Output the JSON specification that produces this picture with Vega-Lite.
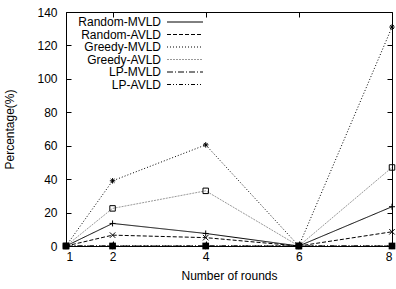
{
  "$schema": "https://vega.github.io/schema/vega-lite/v6.json",
  "autosize": "none",
  "width": 326,
  "height": 234,
  "padding": {"left": 66, "top": 12, "right": 4, "bottom": 43},
  "config": {
    "font": "Liberation Sans",
    "view": {"stroke": "black", "strokeWidth": 1},
    "axis": {"grid": false, "domain": false, "tickColor": "black", "labelColor": "black", "labelFontSize": 12, "titleFontSize": 12, "titleFontWeight": "normal", "titleColor": "black"}
  },
  "data": {"values": [
    {"round": 1, "series": "Random-MVLD", "value": 0},
    {"round": 2, "series": "Random-MVLD", "value": 13.5},
    {"round": 4, "series": "Random-MVLD", "value": 7.5},
    {"round": 6, "series": "Random-MVLD", "value": 0},
    {"round": 8, "series": "Random-MVLD", "value": 23.5},
    {"round": 1, "series": "Random-AVLD", "value": 0},
    {"round": 2, "series": "Random-AVLD", "value": 6.5},
    {"round": 4, "series": "Random-AVLD", "value": 5},
    {"round": 6, "series": "Random-AVLD", "value": 0},
    {"round": 8, "series": "Random-AVLD", "value": 8.5},
    {"round": 1, "series": "Greedy-MVLD", "value": 0},
    {"round": 2, "series": "Greedy-MVLD", "value": 39},
    {"round": 4, "series": "Greedy-MVLD", "value": 60.5},
    {"round": 6, "series": "Greedy-MVLD", "value": 0},
    {"round": 8, "series": "Greedy-MVLD", "value": 131},
    {"round": 1, "series": "Greedy-AVLD", "value": 0},
    {"round": 2, "series": "Greedy-AVLD", "value": 22.5},
    {"round": 4, "series": "Greedy-AVLD", "value": 33},
    {"round": 6, "series": "Greedy-AVLD", "value": 0},
    {"round": 8, "series": "Greedy-AVLD", "value": 47},
    {"round": 1, "series": "LP-MVLD", "value": 0},
    {"round": 2, "series": "LP-MVLD", "value": 0},
    {"round": 4, "series": "LP-MVLD", "value": 0},
    {"round": 6, "series": "LP-MVLD", "value": 0},
    {"round": 8, "series": "LP-MVLD", "value": 0},
    {"round": 1, "series": "LP-AVLD", "value": 0},
    {"round": 2, "series": "LP-AVLD", "value": 0},
    {"round": 4, "series": "LP-AVLD", "value": 0},
    {"round": 6, "series": "LP-AVLD", "value": 0},
    {"round": 8, "series": "LP-AVLD", "value": 0}
  ]},
  "resolve": {"axis": {"x": "independent", "y": "independent"}},
  "layer": [
    {
      "mark": {"type": "line", "strokeWidth": 1},
      "encoding": {
        "x": {"field": "round", "type": "quantitative", "scale": {"domain": [1, 8], "nice": false, "zero": false},
              "axis": {"values": [1, 2, 4, 6, 8], "tickSize": -5, "labelPadding": 10, "title": "Number of rounds", "titlePadding": 8}},
        "y": {"field": "value", "type": "quantitative", "scale": {"domain": [0, 140], "nice": false},
              "axis": {"values": [0, 20, 40, 60, 80, 100, 120, 140], "tickSize": -5, "labelPadding": 14, "title": "Percentage(%)", "titlePadding": 20}},
        "color": {"field": "series", "type": "nominal",
                  "sort": ["Random-MVLD", "Random-AVLD", "Greedy-MVLD", "Greedy-AVLD", "LP-MVLD", "LP-AVLD"],
                  "scale": {"domain": ["Random-MVLD", "Random-AVLD", "Greedy-MVLD", "Greedy-AVLD", "LP-MVLD", "LP-AVLD"],
                            "range": ["#000000", "#000000", "#000000", "#999999", "#000000", "#000000"]},
                  "legend": {"title": null, "orient": "none", "legendX": 113, "legendY": 4, "labelFontSize": 12, "labelColor": "black", "symbolType": "M-6,0H6", "symbolSize": 36, "symbolStrokeWidth": 1, "rowPadding": 0.5, "labelAlign": "right", "labelOffset": -30, "padding": 0}},
        "strokeDash": {"field": "series", "type": "nominal",
                  "scale": {"domain": ["Random-MVLD", "Random-AVLD", "Greedy-MVLD", "Greedy-AVLD", "LP-MVLD", "LP-AVLD"],
                            "range": [[1, 0], [4, 2], [1, 2], [2, 1], [6, 2, 1, 2], [4, 2, 1, 2, 1, 2]]},
                  "legend": {"title": null, "orient": "none", "legendX": 113, "legendY": 4, "labelFontSize": 12, "labelColor": "black", "symbolType": "M-6,0H6", "symbolSize": 36, "symbolStrokeWidth": 1, "rowPadding": 0.5, "labelAlign": "right", "labelOffset": -30, "padding": 0}}
      }
    },
    {
      "transform": [{"filter": {"field": "series", "equal": "Random-MVLD"}}],
      "mark": {"type": "point", "filled": false, "stroke": "black", "strokeWidth": 1, "size": 36, "opacity": 1, "shape": "M-1,0H1M0,-1V1"},
      "encoding": {
        "x": {"field": "round", "type": "quantitative", "axis": {"orient": "top", "values": [1, 2, 4, 6, 8], "tickSize": -5, "labels": false, "title": null}},
        "y": {"field": "value", "type": "quantitative", "axis": {"orient": "right", "values": [0, 20, 40, 60, 80, 100, 120, 140], "tickSize": -5, "labels": false, "title": null}}
      }
    },
    {
      "transform": [{"filter": {"field": "series", "equal": "Random-AVLD"}}],
      "mark": {"type": "point", "filled": false, "stroke": "black", "strokeWidth": 1, "size": 30, "opacity": 1, "shape": "M-1,-1L1,1M-1,1L1,-1"},
      "encoding": {
        "x": {"field": "round", "type": "quantitative", "axis": null},
        "y": {"field": "value", "type": "quantitative", "axis": null}
      }
    },
    {
      "transform": [{"filter": {"field": "series", "equal": "Greedy-MVLD"}}],
      "mark": {"type": "point", "filled": false, "stroke": "black", "strokeWidth": 1, "size": 30, "opacity": 1, "shape": "M-1,0H1M0,-1V1M-0.7,-0.7L0.7,0.7M-0.7,0.7L0.7,-0.7"},
      "encoding": {
        "x": {"field": "round", "type": "quantitative", "axis": null},
        "y": {"field": "value", "type": "quantitative", "axis": null}
      }
    },
    {
      "transform": [{"filter": {"field": "series", "equal": "Greedy-AVLD"}}],
      "mark": {"type": "point", "filled": false, "stroke": "black", "strokeWidth": 1, "size": 30, "opacity": 1, "shape": "square"},
      "encoding": {
        "x": {"field": "round", "type": "quantitative", "axis": null},
        "y": {"field": "value", "type": "quantitative", "axis": null}
      }
    },
    {
      "transform": [{"filter": {"field": "series", "equal": "LP-AVLD"}}],
      "mark": {"type": "point", "filled": false, "stroke": "black", "strokeWidth": 1, "size": 30, "opacity": 1, "shape": "circle"},
      "encoding": {
        "x": {"field": "round", "type": "quantitative", "axis": null},
        "y": {"field": "value", "type": "quantitative", "axis": null}
      }
    },
    {
      "transform": [{"filter": {"field": "series", "equal": "LP-MVLD"}}],
      "mark": {"type": "point", "filled": true, "color": "black", "size": 45, "opacity": 1, "shape": "square"},
      "encoding": {
        "x": {"field": "round", "type": "quantitative", "axis": null},
        "y": {"field": "value", "type": "quantitative", "axis": null}
      }
    }
  ]
}
